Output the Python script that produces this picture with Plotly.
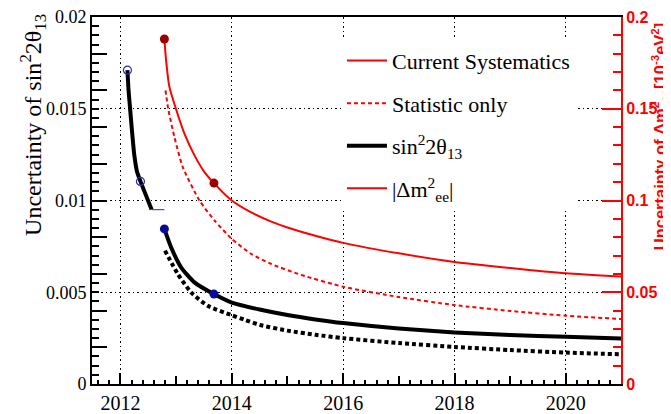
import plotly.graph_objects as go

# ---------------- data ----------------
years_red_sys = [2012.79, 2012.82, 2012.88, 2013.00, 2013.15, 2013.33, 2013.51, 2013.68,
                 2014.00, 2014.35, 2014.71, 2015.00, 2015.50, 2016.00, 2017.00, 2018.00,
                 2019.00, 2020.00, 2021.00]
dm2_sys = [0.188, 0.1765, 0.1619, 0.1497, 0.1364, 0.1246, 0.1155, 0.1095,
           0.1000, 0.0935, 0.0885, 0.0853, 0.0808, 0.0769, 0.0712, 0.0665,
           0.0632, 0.0603, 0.0585]

years_red_stat = [2012.81, 2012.86, 2012.97, 2013.12, 2013.42, 2013.69, 2014.00, 2014.35,
                  2014.71, 2015.25, 2016.00, 2017.00, 2018.00, 2019.00, 2020.00, 2021.00]
dm2_stat = [0.160, 0.1497, 0.1346, 0.1182, 0.1000, 0.0891, 0.0791, 0.0709,
            0.0654, 0.0594, 0.0530, 0.0474, 0.0430, 0.0398, 0.0372, 0.0354]

years_blk_sys = [2012.79, 2012.91, 2013.09, 2013.33, 2013.68, 2014.00, 2014.50, 2015.00,
                 2015.50, 2016.00, 2017.00, 2018.00, 2019.00, 2020.00, 2021.00]
s2t_sys = [0.00845, 0.00745, 0.00636, 0.00554, 0.00490, 0.00444, 0.00406, 0.00376,
           0.00352, 0.00332, 0.00303, 0.00281, 0.00267, 0.00257, 0.00248]

years_blk_stat = [2012.80, 2013.03, 2013.27, 2013.57, 2014.00, 2014.23, 2014.50, 2015.00,
                  2015.50, 2016.00, 2017.00, 2018.00, 2019.00, 2020.00, 2021.00]
s2t_stat = [0.00727, 0.00600, 0.00499, 0.00426, 0.00375, 0.00350, 0.00322, 0.00291,
            0.00268, 0.00250, 0.00223, 0.00202, 0.00185, 0.00171, 0.00162]

years_early = [2012.126, 2012.144, 2012.174, 2012.21, 2012.25, 2012.30, 2012.36, 2012.56]
s2t_early = [0.0171, 0.0161, 0.0150, 0.01373, 0.01246, 0.01155, 0.01104, 0.00951]

years_flat = [2012.56, 2012.79]
s2t_flat = [0.0095, 0.0095]

years_open = [2012.126, 2012.36]
s2t_open = [0.0171, 0.01104]

years_pts = [2012.79, 2013.68]
s2t_pts = [0.00845, 0.0049]
dm2_pts = [0.188, 0.1095]

x_ticks = [2012, 2014, 2016, 2018, 2020]
x_mid_ticks = [2013, 2015, 2017, 2019]
y_ticks = [0, 0.005, 0.01, 0.015, 0.02]
y_ticks_text = ["0", "0.005", "0.01", "0.015", "0.02"]
y_long_ticks = [0.0, 0.002, 0.004, 0.006, 0.008, 0.010, 0.012, 0.014, 0.016, 0.018, 0.020]
y2_ticks = [0, 0.05, 0.1, 0.15, 0.2]
y2_ticks_text = ["0", "0.05", "0.1", "0.15", "0.2"]

legend_names = ["Current Systematics", "Statistic only",
                "sin<sup>2</sup>2θ<sub>13</sub>", "|Δm<sup>2</sup><sub>ee</sub>|"]
left_title = "Uncertainty of sin<sup>2</sup>2θ<sub>13</sub>"
right_title = "Uncertainty of Δm<sup>2</sup><sub>ee</sub>[10<sup>-3</sup>eV<sup>2</sup>]"

RED = "#ff0000"
DARKRED = "#9a0000"
BLUE = "#0a0a9a"
OPENBLUE = "#2a2ac0"
SERIF = "Liberation Serif"
SANS = "Liberation Sans"
XR = [2011.49, 2020.99]

fig = go.Figure()

# red curves (right axis)
fig.add_trace(go.Scatter(x=years_red_sys, y=dm2_sys, mode="lines", yaxis="y2",
                         line=dict(color=RED, width=2, shape="spline", smoothing=0.6),
                         showlegend=False))
fig.add_trace(go.Scatter(x=years_red_stat, y=dm2_stat, mode="lines", yaxis="y2",
                         line=dict(color=RED, width=2, dash="4px,3px", shape="spline", smoothing=0.6),
                         showlegend=False))
# black curves (left axis)
fig.add_trace(go.Scatter(x=years_blk_sys, y=s2t_sys, mode="lines",
                         line=dict(color="black", width=4, shape="spline", smoothing=0.6),
                         showlegend=False))
fig.add_trace(go.Scatter(x=years_blk_stat, y=s2t_stat, mode="lines",
                         line=dict(color="black", width=4, dash="4px,3px", shape="spline", smoothing=0.6),
                         showlegend=False))
fig.add_trace(go.Scatter(x=years_early, y=s2t_early, mode="lines",
                         line=dict(color="black", width=4, shape="spline", smoothing=0.4),
                         showlegend=False))
fig.add_trace(go.Scatter(x=years_flat, y=s2t_flat, mode="lines",
                         line=dict(color=OPENBLUE, width=1), showlegend=False))
fig.add_trace(go.Scatter(x=years_open, y=s2t_open, mode="markers",
                         marker=dict(symbol="circle-open", size=8, color=OPENBLUE,
                                     line=dict(width=1.2, color=OPENBLUE)),
                         showlegend=False))
fig.add_trace(go.Scatter(x=years_pts, y=s2t_pts, mode="markers",
                         marker=dict(size=9, color=BLUE), showlegend=False))
fig.add_trace(go.Scatter(x=years_pts, y=dm2_pts, mode="markers", yaxis="y2",
                         marker=dict(size=9, color=DARKRED), showlegend=False))

# legend entries
leg_styles = [dict(color=RED, width=2), dict(color=RED, width=2, dash="4px,3px"),
              dict(color="black", width=4), dict(color=RED, width=2)]
for i, (nm, st) in enumerate(zip(legend_names, leg_styles)):
    fig.add_trace(go.Scatter(x=[None], y=[None], mode="lines", name=nm, line=st,
                             legendgroup=f"g{i}", showlegend=True))

# extra tick-only axes
fig.add_trace(go.Scatter(x=[None], y=[None], xaxis="x2", yaxis="y3", showlegend=False,
                         hoverinfo="skip"))

fig.update_layout(
    width=663, height=406,
    margin=dict(l=84, r=50, t=9, b=30, autoexpand=False),
    paper_bgcolor="white", plot_bgcolor="white",
    font=dict(family=SERIF, size=20, color="black"),
    xaxis=dict(range=XR, tickvals=x_ticks, ticks="inside", ticklen=11, tickwidth=1.5,
               tickcolor="black", showline=True, linecolor="black", linewidth=2, mirror=True,
               showgrid=True, gridcolor="black", gridwidth=1, griddash="1.5px,3px",
               zeroline=False, tickfont=dict(family=SERIF, size=20),
               minor=dict(dtick=0.2, ticks="inside", ticklen=4, tickcolor="black", showgrid=False),
               automargin=False, ticklabeloverflow="allow"),
    xaxis2=dict(range=XR, overlaying="x", anchor="y", tickvals=x_mid_ticks, ticks="inside",
                ticklen=8, tickwidth=1.5, tickcolor="black", showticklabels=False,
                showline=False, showgrid=False, zeroline=False),
    yaxis=dict(range=[0, 0.02], tickvals=y_ticks, ticktext=y_ticks_text, ticks="inside",
               ticklen=7, tickwidth=1.5, tickcolor="black", showline=True, linecolor="black",
               linewidth=2, showgrid=True, gridcolor="black", gridwidth=1, griddash="1.5px,3px",
               zeroline=False, tickfont=dict(family=SERIF, size=18),
               minor=dict(dtick=0.0005, ticks="inside", ticklen=7, tickcolor="black", showgrid=False),
               automargin=False, ticklabeloverflow="allow"),
    yaxis3=dict(range=[0, 0.02], overlaying="y", anchor="x", side="left", tickvals=y_long_ticks,
                ticks="inside", ticklen=15, tickwidth=1.5, tickcolor="black",
                showticklabels=False, showline=False, showgrid=False, zeroline=False),
    yaxis2=dict(range=[0, 0.2], overlaying="y", side="right", anchor="x",
                tickvals=y2_ticks, ticktext=y2_ticks_text, ticks="inside", ticklen=19,
                tickwidth=1.5, tickcolor=RED, showline=True, linecolor=RED, linewidth=2,
                showgrid=False, zeroline=False,
                tickfont=dict(family=SANS, size=16, color=RED, weight="bold"),
                minor=dict(dtick=0.01, ticks="inside", ticklen=8, tickcolor=RED, showgrid=False),
                automargin=False, ticklabeloverflow="allow"),
    legend=dict(x=0.4725, y=0.938, xanchor="left", yanchor="top", bgcolor="white",
                borderwidth=0, font=dict(family=SERIF, size=22), tracegroupgap=11,
                traceorder="grouped", itemwidth=40),
    showlegend=True,
    annotations=[
        dict(text=left_title, xref="paper", yref="paper", x=-0.1115, y=0.706,
             xanchor="center", yanchor="middle", textangle=-90, showarrow=False,
             font=dict(family=SERIF, size=24, color="black")),
        dict(text=right_title, xref="paper", yref="paper", x=1.073, y=0.99,
             xanchor="center", yanchor="top", textangle=-90, showarrow=False,
             font=dict(family=SANS, size=16.5, color=RED, weight="bold")),
    ],
)

fig.write_html("out.html")
